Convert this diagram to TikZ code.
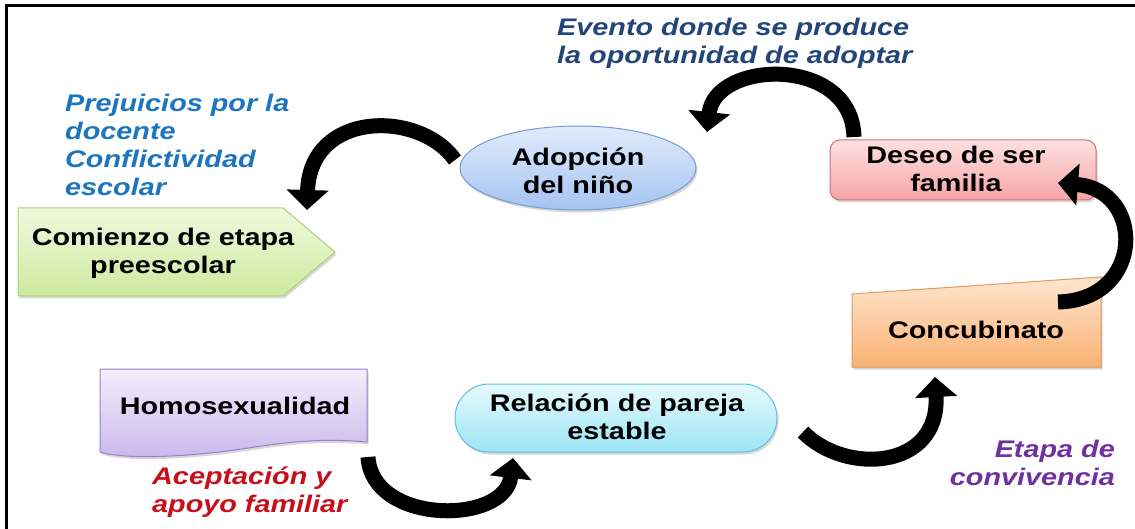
\documentclass[tikz,border=0pt]{standalone}
\usepackage{fontspec}
\setmainfont{Liberation Sans}[FakeStretch=1.2]
\usetikzlibrary{arrows.meta,shadows}
\definecolor{gtop}{RGB}{240,249,222}\definecolor{gbot}{RGB}{205,234,158}\definecolor{gbrd}{RGB}{170,208,120}
\definecolor{btop}{RGB}{225,235,251}\definecolor{bbot}{RGB}{165,196,241}\definecolor{bbrd}{RGB}{115,155,212}
\definecolor{ptop}{RGB}{255,224,224}\definecolor{pbot}{RGB}{246,165,165}\definecolor{pbrd}{RGB}{205,115,115}
\definecolor{otop}{RGB}{255,230,208}\definecolor{obot}{RGB}{250,178,115}\definecolor{obrd}{RGB}{225,152,92}
\definecolor{vtop}{RGB}{243,238,252}\definecolor{vbot}{RGB}{203,184,236}\definecolor{vbrd}{RGB}{152,128,202}
\definecolor{ctop}{RGB}{230,250,253}\definecolor{cbot}{RGB}{155,229,246}\definecolor{cbrd}{RGB}{98,192,216}
\definecolor{txtblue}{RGB}{28,117,190}
\definecolor{txtnavy}{RGB}{35,70,122}
\definecolor{txtred}{RGB}{200,14,26}
\definecolor{txtpurple}{RGB}{112,48,160}
\tikzset{
  shp/.style={line width=1pt, drop shadow={shadow xshift=1.5pt, shadow yshift=-2.5pt, opacity=0.25, fill=black!60}},
  lbl/.style={font=\bfseries\fontsize{24}{28}\selectfont, align=center, inner sep=0pt, text=black},
  note/.style={font=\bfseries\itshape\fontsize{24}{28}\selectfont, inner sep=0pt},
  bigarrow/.style={line width=15pt, draw=black, -{Triangle[length=20pt,width=41pt]}}
}
\begin{document}
\begin{tikzpicture}[x=1pt,y=-1pt]
\useasboundingbox (0,0) rectangle (1135,529);
\fill[white] (0,0) rectangle (1135,529);
\draw[line width=3pt] (6,529) -- (6,6) -- (1135,6);

% shapes
\path[shp, draw=gbrd, top color=gtop, bottom color=gbot]
  (18,208) -- (283,208) -- (335,252) -- (283,296) -- (18,296) -- cycle;
\path[shp, draw=bbrd, top color=btop, bottom color=bbot]
  (578,168) ellipse [x radius=118pt, y radius=42pt];
\path[shp, draw=pbrd, top color=ptop, bottom color=pbot, rounded corners=10pt]
  (830,140) rectangle (1096,200);
\path[shp, draw=obrd, top color=otop, bottom color=obot]
  (852,294) -- (1101,277) -- (1101,367) -- (852,367) -- cycle;
\path[shp, draw=vbrd, top color=vtop, bottom color=vbot]
  (100,369) -- (367,369) -- (367,442) .. controls (300,436) and (260,448) .. (210,453)
  .. controls (160,458) and (120,458) .. (100,452) -- cycle;
\path[shp, draw=cbrd, top color=ctop, bottom color=cbot, rounded corners=34pt]
  (455,384) rectangle (777,452);

% labels
\node[lbl] (comienzo) at (163,253) {Comienzo de etapa\\preescolar};
\node[lbl] (adopcion) at (578,171) {Adopción\\del niño};
\node[lbl] (deseo) at (956,169) {Deseo de ser\\familia};
\node[lbl] (concubinato) at (976,330) {Concubinato};
\node[lbl] (homo) at (235,406) {Homosexualidad};
\node[lbl] (relacion) at (617,417) {Relación de pareja\\estable};

% notes
\node[note, text=txtnavy, align=left, anchor=west] (evento) at (557,43) {Evento donde se produce\\la oportunidad de adoptar};
\node[note, text=txtblue, align=left, anchor=west] (prejuicios) at (65,145) {Prejuicios por la\\docente\\Conflictividad\\escolar};
\node[note, text=txtred, align=left, anchor=west] (aceptacion) at (152,492) {Aceptación y\\apoyo familiar};
\node[note, text=txtpurple, align=right, anchor=east] (etapa) at (1115,463) {Etapa de\\convivencia};

% arrow ends
\coordinate (a1s) at (854,137); \coordinate (a1e) at (707,132);
\coordinate (a2s) at (455,160); \coordinate (a2e) at (307,210);
\coordinate (a3s) at (368,457); \coordinate (a3e) at (513,458);
\coordinate (a4s) at (803,432); \coordinate (a4e) at (935,377);
\coordinate (a5s) at (1058,302); \coordinate (a5e) at (1058,183);

\draw[bigarrow] (a1s) .. controls (852,55) and (715,60) .. (a1e);
\draw[bigarrow] (a2s) .. controls (420,110) and (310,110) .. (a2e);
\draw[bigarrow] (a3s) .. controls (372,525) and (505,525) .. (a3e);
\draw[bigarrow] (a4s) .. controls (845,475) and (940,470) .. (a4e);
\draw[bigarrow] (a5s) .. controls (1145,300) and (1145,190) .. (a5e);
\end{tikzpicture}
\end{document}
